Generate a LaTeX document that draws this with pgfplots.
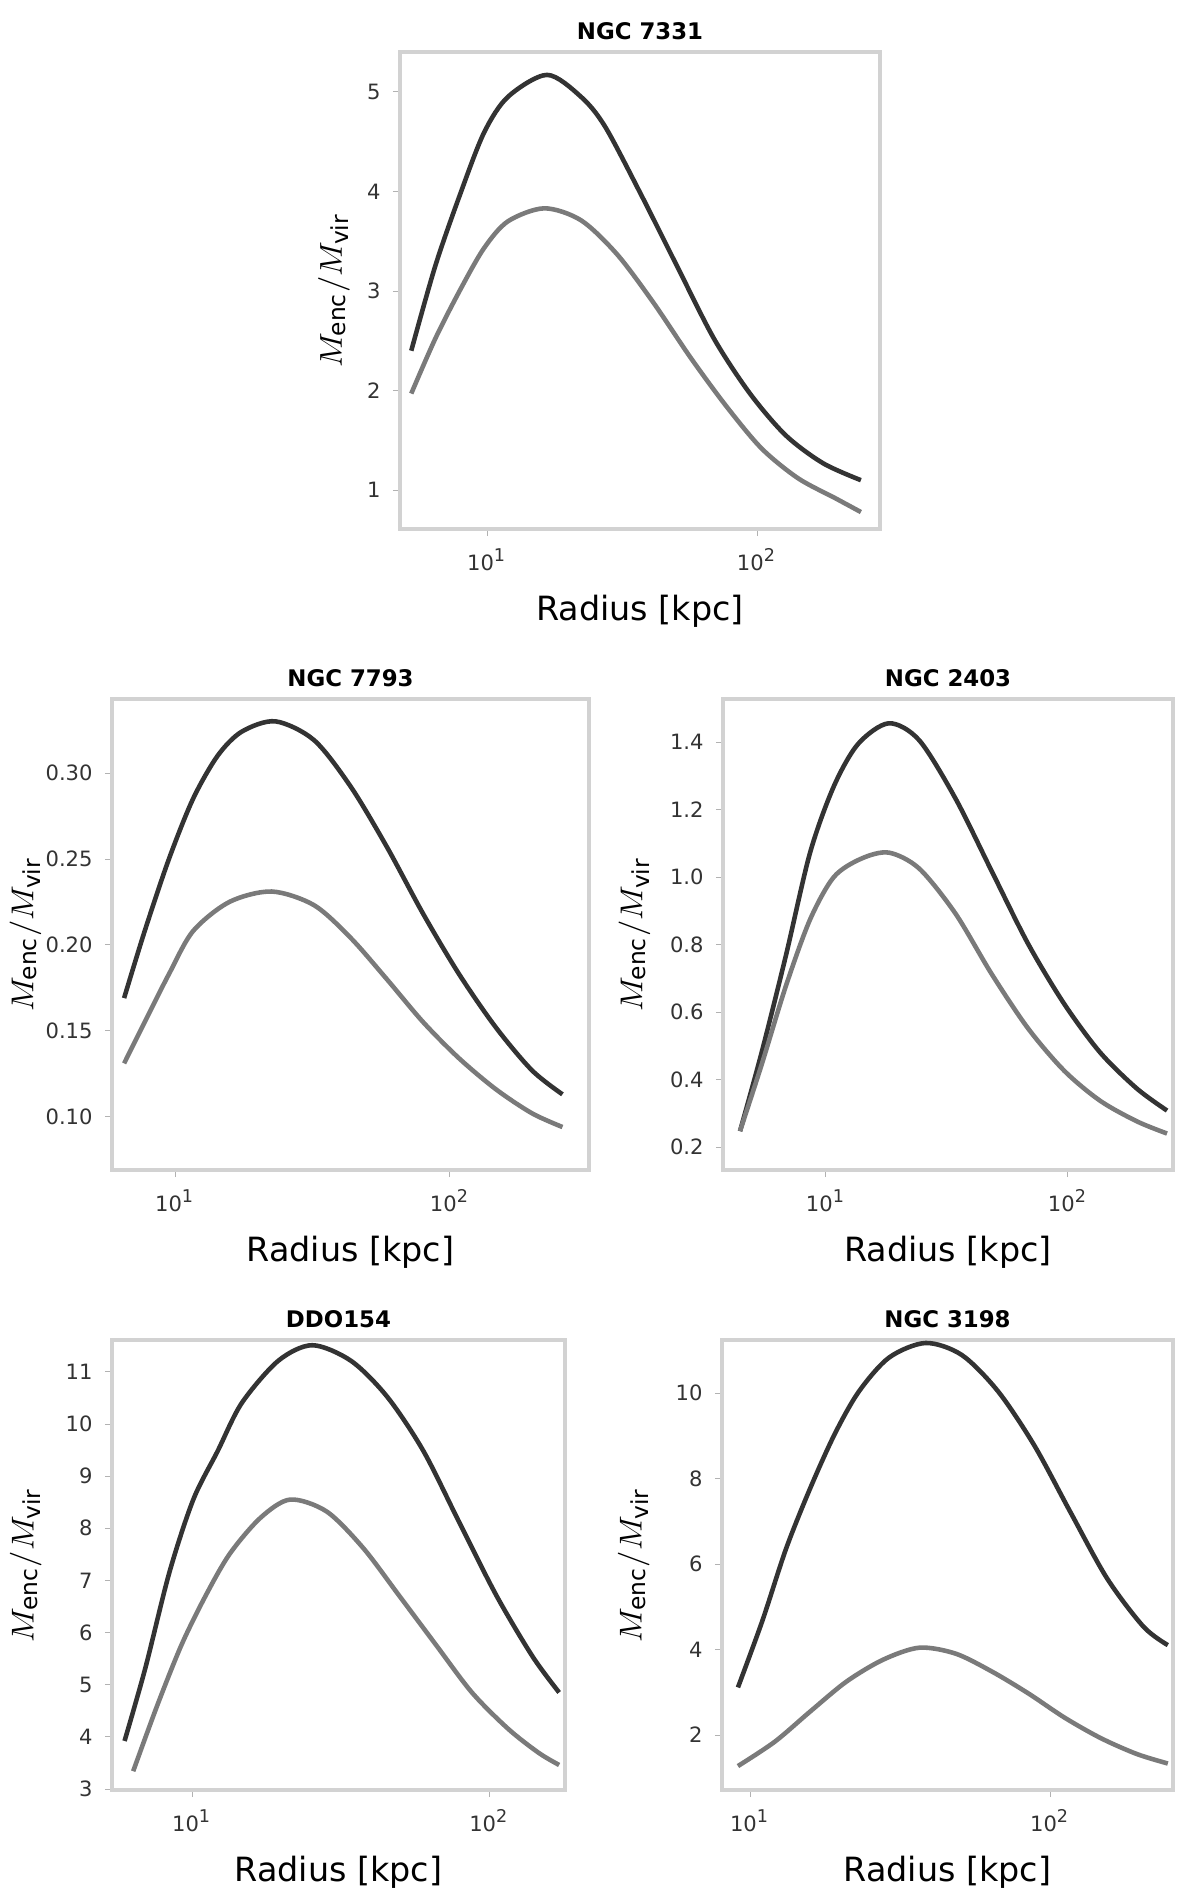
\documentclass[border=0pt]{standalone}
\usepackage{fontspec}
\setmainfont{DejaVu Sans}
\usepackage{pgfplots}
\pgfplotsset{compat=1.18}

\definecolor{upper}{HTML}{333333}
\definecolor{lower}{HTML}{7a7a7a}

\pgfplotsset{
  every axis/.append style={
    anchor=south west, scale only axis,
    xminorticks=false,
    xtick={10,100},
    xticklabels={10\textsuperscript{1}, 10\textsuperscript{2}},
    axis line style={gray!35, line width=1pt},
    tick style={gray!60},
    major tick length=2pt,
    tick align=outside,
    xtick pos=bottom, ytick pos=left,
    tick label style={font=\fontsize{6}{7}\selectfont, text=black!80},
    label style={font=\fontsize{9.5}{10}\selectfont},
    title style={at={(0.5,1)}, anchor=center, font=\fontsize{6.5}{7}\selectfont\bfseries, fill=white, inner sep=1pt},
    xlabel={Radius [kpc]},
    ylabel={$M_{\rm enc}/M_{\rm vir}$},
    /pgf/number format/assume math mode=true,
  },
  ylab/.style={ylabel style={at={(axis description cs:#1,0.5)}, anchor=south}},
  curveup/.style={color=upper, line width=1.3pt, smooth},
  curvelo/.style={color=lower, line width=1.3pt, smooth},
}

\begin{document}
\begin{tikzpicture}
\path[use as bounding box] (0,0) rectangle (120mm,189.6mm);

% top panel
\begin{axis}[xmode=log, at={(40mm,136.7mm)}, width=48mm, height=47.7mm,
  title={NGC 7331}, ylab=-0.079,
  xmin=4.76, xmax=286, ymin=0.61, ymax=5.40, ytick={1,2,3,4,5}]
\addplot[curveup] coordinates {(5.24,2.40) (6.43,3.25) (7.95,3.97) (9.75,4.59) (11.96,4.95) (16.7,5.17) (22.3,4.95) (27.4,4.65) (37.2,3.97) (50.6,3.25) (69.4,2.52) (94.3,1.97) (128,1.55) (176,1.27) (243,1.10)};
\addplot[curvelo] coordinates {(5.24,1.97) (6.43,2.52) (7.95,3.01) (9.75,3.43) (11.96,3.70) (16.3,3.83) (22.3,3.71) (30.3,3.37) (41.2,2.89) (56.5,2.34) (76.7,1.85) (104,1.42) (142,1.12) (195,0.92) (243,0.78)};
\end{axis}

% middle left
\begin{axis}[xmode=log, at={(11.2mm,72.6mm)}, width=47.7mm, height=47.1mm,
  title={NGC 7793}, ylab=-0.122,
  xmin=5.90, xmax=321, ymin=0.069, ymax=0.343, ytick={0.10,0.15,0.20,0.25,0.30},
  yticklabel style={/pgf/number format/.cd, fixed, fixed zerofill, precision=2}]
\addplot[curveup] coordinates {(6.53,0.169) (7.76,0.208) (9.51,0.250) (11.64,0.285) (14.3,0.310) (17.5,0.324) (23.2,0.330) (32.1,0.319) (43.6,0.292) (59.0,0.257) (80.0,0.218) (108,0.183) (147,0.152) (199,0.127) (257,0.113)};
\addplot[curvelo] coordinates {(6.53,0.131) (7.76,0.155) (9.51,0.183) (11.64,0.208) (15.8,0.225) (22.5,0.231) (32.1,0.223) (43.6,0.204) (59.0,0.180) (80.0,0.155) (108,0.134) (147,0.116) (199,0.102) (257,0.094)};
\end{axis}

% middle right
\begin{axis}[xmode=log, at={(72.3mm,72.6mm)}, width=45mm, height=47.1mm,
  title={NGC 2403}, ylab=-0.134,
  xmin=3.76, xmax=272, ymin=0.132, ymax=1.527, ytick={0.2,0.4,...,1.4},
  yticklabel style={/pgf/number format/.cd, fixed, fixed zerofill, precision=1}]
\addplot[curveup] coordinates {(4.42,0.247) (5.43,0.480) (6.84,0.767) (8.61,1.072) (10.8,1.269) (13.6,1.394) (18.2,1.455) (24.3,1.405) (34.3,1.233) (48.4,1.018) (68.4,0.803) (96.6,0.624) (136,0.480) (193,0.373) (257,0.308)};
\addplot[curvelo] coordinates {(4.42,0.247) (5.43,0.444) (6.84,0.677) (8.61,0.874) (10.8,1.000) (14.0,1.054) (18.2,1.072) (24.3,1.025) (34.3,0.892) (48.4,0.713) (68.4,0.552) (96.6,0.426) (136,0.337) (193,0.276) (257,0.240)};
\end{axis}

% bottom left
\begin{axis}[xmode=log, at={(11.2mm,10.6mm)}, width=45.3mm, height=45mm,
  title={DDO154}, ylab=-0.128,
  xmin=5.38, xmax=180, ymin=2.98, ymax=11.61, ytick={3,4,...,11}]
\addplot[curveup] coordinates {(5.93,3.92) (6.96,5.31) (8.40,7.16) (10.1,8.55) (12.2,9.48) (14.7,10.40) (19.5,11.21) (25.4,11.51) (34.3,11.21) (45.4,10.52) (60.1,9.48) (79.7,8.09) (106,6.70) (140,5.54) (172,4.85)};
\addplot[curvelo] coordinates {(6.34,3.34) (7.65,4.61) (9.23,5.77) (11.1,6.70) (13.4,7.51) (17.0,8.20) (21.4,8.55) (28.4,8.32) (37.7,7.62) (49.9,6.70) (66.1,5.77) (87.5,4.85) (116,4.15) (147,3.69) (172,3.46)};
\end{axis}

% bottom right
\begin{axis}[xmode=log, at={(72.2mm,10.6mm)}, width=45.1mm, height=45mm,
  title={NGC 3198}, ylab=-0.133,
  xmin=8.07, xmax=257, ymin=0.71, ymax=11.24, ytick={2,4,6,8,10}]
\addplot[curveup] coordinates {(9.12,3.11) (11.0,4.67) (13.2,6.36) (15.9,7.78) (19.2,9.05) (23.1,10.04) (29.1,10.83) (38.5,11.17) (50.8,10.89) (67.1,10.04) (88.7,8.77) (117,7.21) (155,5.66) (205,4.53) (247,4.10)};
\addplot[curvelo] coordinates {(9.12,1.27) (12.1,1.84) (15.9,2.55) (21.0,3.25) (27.8,3.76) (36.7,4.04) (48.5,3.90) (64.1,3.48) (84.7,2.97) (112,2.40) (148,1.92) (195,1.55) (247,1.33)};
\end{axis}
\end{tikzpicture}
\end{document}
